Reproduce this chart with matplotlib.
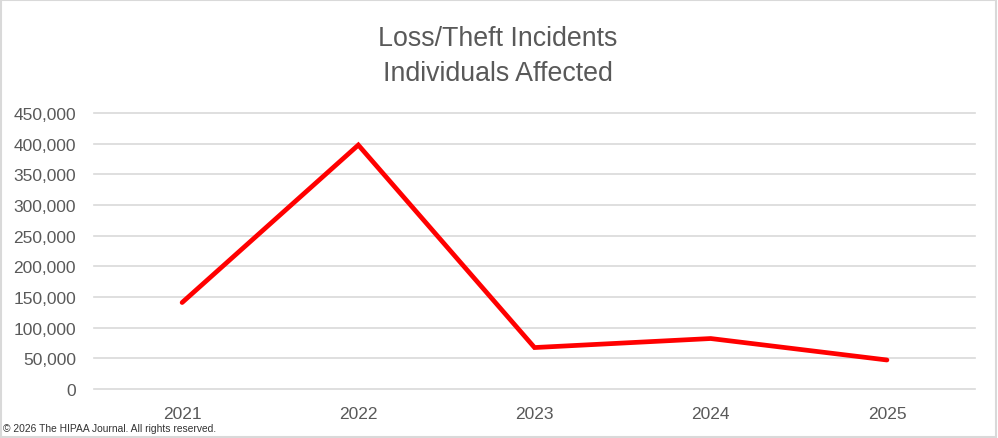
#import modules
import matplotlib.pyplot as plt
from matplotlib.ticker import FuncFormatter
from matplotlib.patches import Rectangle

plt.rcParams['font.family'] = ['Liberation Sans', 'DejaVu Sans']

#chart data
years = ["2021", "2022", "2023", "2024", "2025"]
individuals_affected = [141000, 397800, 67600, 82300, 47300]

fig = plt.figure(figsize=(9.98, 4.39), dpi=100)
ax = fig.add_axes([0.0942, 0.1116, 0.8828, 0.6287])

#plot the line
ax.plot(range(len(years)), individuals_affected, color="#FF0000", linewidth=3.4,
        solid_capstyle="round", solid_joinstyle="miter", zorder=3)

ax.set_xlim(-0.5, len(years) - 0.5)
ax.set_ylim(0, 450000)
ax.set_yticks(range(0, 450001, 50000))
ax.yaxis.set_major_formatter(FuncFormatter(lambda v, p: f"{int(v):,}"))
ax.set_xticks(range(len(years)))
ax.set_xticklabels(years)

ax.grid(axis="y", color="#D9D9D9", linewidth=1.2)
for gl in ax.get_ygridlines():
    gl.set_clip_on(False)
ax.set_axisbelow(True)
for s in ax.spines.values():
    s.set_visible(False)
ax.tick_params(length=0, labelsize=12.5, colors="#595959")
ax.tick_params(axis="x", pad=12)
ax.tick_params(axis="y", pad=13)

#title and footer
fig.text(0.499, 0.872, "Loss/Theft Incidents\nIndividuals Affected", ha="center", va="center",
         fontsize=19.3, color="#595959", linespacing=1.45)
fig.text(0.003, 0.022, "\u00a9 2026 The HIPAA Journal. All rights reserved.", ha="left",
         va="center", fontsize=7.4, color="#333333")

#light border around the chart
fig.patches.append(Rectangle((0.001, 0.002), 0.997, 0.995, transform=fig.transFigure,
                             fill=False, edgecolor="#D9D9D9", linewidth=1.5))

plt.savefig("out.png", dpi=100)
